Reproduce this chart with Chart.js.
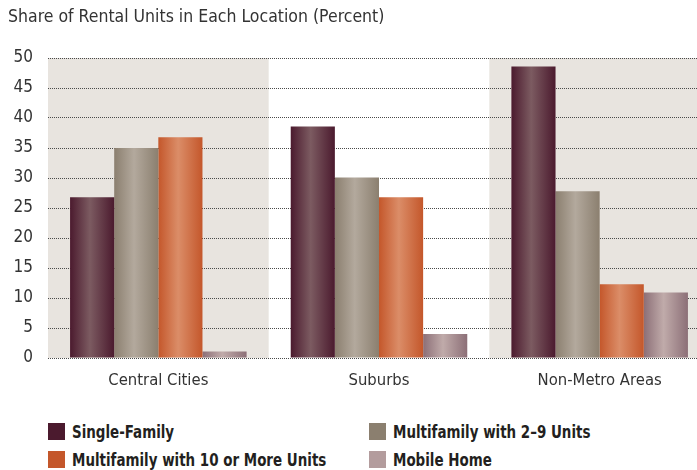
<!DOCTYPE html>
<html>
<head>
<meta charset="utf-8">
<script src="https://cdn.jsdelivr.net/npm/chart.js@4"></script>
<style>
  body { margin: 0; background: #fff; overflow: hidden; }
  #wrap { position: relative; width: 697px; height: 470px; overflow: hidden; font-family: "DejaVu Sans Condensed", "DejaVu Sans", sans-serif; color: #231f20; }
  #title { position: absolute; left: 8px; top: 6px; font-size: 17.5px; color: #333; white-space: nowrap; }
  canvas { position: absolute; left: 0; top: 0; }
  .item { position: absolute; font-size: 18px; font-weight: bold; line-height: 18px; white-space: nowrap; }
  .item span { display: inline-block; width: 17px; height: 17px; vertical-align: top; }
  .item b { display: inline-block; margin-left: 7px; transform: scaleX(0.83); transform-origin: left center; }
</style>
</head>
<body>
<div id="wrap">
  <canvas id="chart" width="710" height="400"></canvas>
  <div id="title">Share of Rental Units in Each Location (Percent)</div>
  <div id="legend"></div>
</div>
<script>
const categories = ['Central Cities', 'Suburbs', 'Non-Metro Areas'];
const seriesNames = ['Single-Family', 'Multifamily with 2\u20139 Units', 'Multifamily with 10 or More Units', 'Mobile Home'];
const singleFamily = [26.8, 38.6, 48.6];
const multi2to9 = [35.0, 30.1, 27.8];
const multi10plus = [36.8, 26.8, 12.3];
const mobileHome = [1.1, 4.0, 10.9];
const yTicks = [0, 5, 10, 15, 20, 25, 30, 35, 40, 45, 50];

// edge colour, highlight colour, legend swatch
const palette = [
    ['#4b1a2e', '#7c5b61', '#4b1a2e'],
    ['#8b7f6f', '#b3a99d', '#8b7f6f'],
    ['#c4572b', '#db8d68', '#c4572b'],
    ['#8c6f77', '#c0abaa', '#b39c9d']
];
const bandColor = '#e8e4df';
const fontFamily = '"DejaVu Sans Condensed", "DejaVu Sans", sans-serif';

const legendBox = document.getElementById('legend');
const legendPos = [[48, 423], [369, 423], [48, 451], [369, 451]];
seriesNames.forEach((name, i) => {
    const div = document.createElement('div');
    div.className = 'item';
    div.style.left = legendPos[i][0] + 'px';
    div.style.top = legendPos[i][1] + 'px';
    div.innerHTML = `<span style="background:${palette[i][2]}"></span><b>${name}</b>`;
    legendBox.appendChild(div);
});

const bandPlugin = {
    id: 'bands',
    beforeDraw(chart) {
        const { ctx, chartArea, scales } = chart;
        const w = scales.x.width / categories.length;
        ctx.save();
        ctx.fillStyle = bandColor;
        categories.forEach((c, i) => {
            if (i % 2 === 1) return;
            const cx = scales.x.getPixelForValue(i);
            ctx.fillRect(cx - w / 2, chartArea.top, w, chartArea.bottom - chartArea.top);
        });
        ctx.restore();
    }
};

const gradientPlugin = {
    id: 'barGradient',
    beforeDatasetsDraw(chart) {
        const ctx = chart.ctx;
        chart.data.datasets.forEach((ds, di) => {
            chart.getDatasetMeta(di).data.forEach(el => {
                const left = el.x - el.width / 2;
                const g = ctx.createLinearGradient(left, 0, left + el.width, 0);
                g.addColorStop(0, palette[di][0]);
                g.addColorStop(0.45, palette[di][1]);
                g.addColorStop(1, palette[di][0]);
                el.options = Object.assign({}, el.options, { backgroundColor: g });
            });
        });
    }
};

const seriesData = [singleFamily, multi2to9, multi10plus, mobileHome];

new Chart(document.getElementById('chart').getContext('2d'), {
    type: 'bar',
    data: {
        labels: categories,
        datasets: seriesData.map((d, i) => ({
            label: seriesNames[i],
            data: d,
            backgroundColor: palette[i][0],
            borderWidth: 0,
            barPercentage: 1,
            categoryPercentage: 0.80
        }))
    },
    options: {
        responsive: false,
        animation: false,
        layout: { padding: { top: 58, right: 0, left: 0, bottom: 0 } },
        plugins: {
            legend: { display: false },
            tooltip: { enabled: false }
        },
        scales: {
            x: {
                grid: { display: false, drawTicks: false },
                border: { display: false },
                ticks: {
                    padding: 13,
                    color: '#333',
                    font: { family: fontFamily, size: 16.5 }
                },
                afterFit(scale) { scale.height = 42; }
            },
            y: {
                min: 0,
                max: 50,
                afterBuildTicks(scale) { scale.ticks = yTicks.map(v => ({ value: v })); },
                grid: { color: '#4a4a4a', lineWidth: 1, drawTicks: false },
                border: { display: false, dash: [1, 1] },
                ticks: {
                    padding: 15,
                    color: '#333',
                    font: { family: fontFamily, size: 17 }
                },
                afterFit(scale) { scale.width = 48; }
            }
        }
    },
    plugins: [bandPlugin, gradientPlugin]
});
</script>
</body>
</html>
